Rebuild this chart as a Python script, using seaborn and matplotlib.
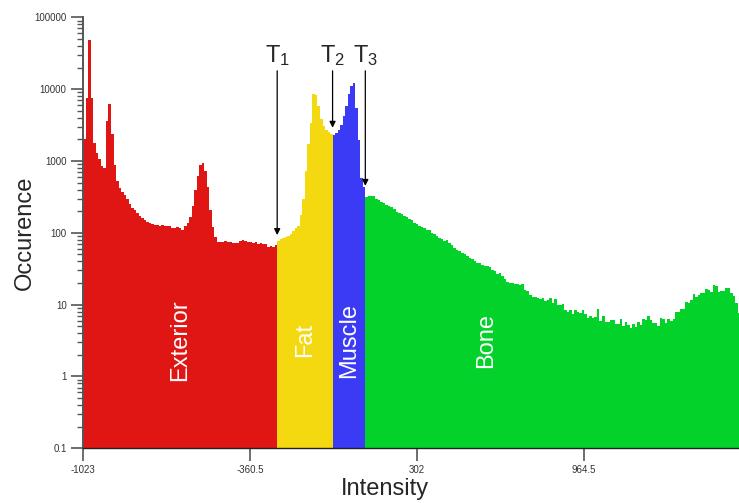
import numpy as np
import seaborn as sns
import matplotlib.pyplot as plt
from matplotlib.ticker import NullFormatter

# histogram counts per tissue class, 10 HU bins starting at -1023
exterior = [2000, 7600, 48000, 7600, 1800, 1300, 1050, 850, 800, 3600,
            6300, 2400, 870, 520, 420, 370, 335, 295, 250, 225,
            205, 190, 170, 162, 150, 142, 135, 132, 130, 128,
            125, 130, 126, 123, 123, 118, 117, 119, 117, 110,
            123, 138, 165, 236, 400, 610, 870, 950, 720, 436,
            210, 122, 88, 75, 74, 75, 77, 74, 74, 72,
            73, 72, 78, 79, 77, 74, 75, 72, 74, 70,
            72, 70, 70, 64, 65, 64, 68]
fat = [78, 82, 85, 88, 91, 97, 106, 115, 125, 175, 300,
       720, 1700, 3400, 8500, 8200, 5800, 3900, 3100, 2700, 2500, 2400]
muscle = [2300, 2450, 2700, 3200, 4200, 5800, 8500, 11000, 12300, 5500,
          1950, 580, 440]
bone = [312, 325, 325, 325, 300, 285, 268, 260, 245, 238,
        230, 213, 197, 187, 182, 170, 164, 158, 150, 138,
        132, 125, 122, 116, 110, 108, 101, 96, 90, 84,
        82, 76, 79, 72, 68, 61, 57, 55, 53, 51,
        47, 45, 43, 41, 38, 38, 36, 35, 34, 33,
        30, 29, 27, 27.5, 25, 23, 21, 20, 20, 19.5,
        19.5, 19, 19.5, 16, 15.5, 13.6, 12.6, 12.8, 12.5, 11.8,
        12.2, 11.3, 11.5, 12.2, 10.7, 12, 9.9, 9.9, 10.3, 8.5,
        8.0, 8.5, 7.4, 8.3, 7.8, 7.6, 8.5, 7.4, 6.6, 6.9,
        6.6, 6.7, 8.6, 6.0, 7.0, 5.8, 5.7, 6.2, 6.1, 5.3,
        5.3, 6.4, 5.0, 5.7, 5.2, 4.7, 5.4, 4.9, 5.7, 5.2,
        6.3, 6.1, 7.0, 6.1, 5.5, 5.5, 5.1, 6.6, 6.3, 5.6,
        6.3, 5.9, 6.4, 8.0, 8.0, 8.7, 8.7, 11, 10.5, 11.6,
        14, 12.6, 13.8, 14.4, 14.4, 16.4, 16, 15, 19, 18,
        15.2, 15.5, 15.6, 17.1, 17.1, 14.4, 13.2, 10.4, 7.6]

regions = ["Exterior", "Fat", "Muscle", "Bone"]
colors = ["#E01614", "#F4D810", "#3B3BF5", "#02D22A"]
xticks = [-1023, -360.5, 302, 964.5]
xtick_labels = ["-1023", "-360.5", "302", "964.5"]
yticks = [0.1, 1, 10, 100, 1000, 10000, 100000]
ytick_labels = ["0.1", "1", "10", "100", "1000", "10000", "100000"]
threshold_labels = [r"$\mathregular{T_1}$", r"$\mathregular{T_2}$", r"$\mathregular{T_3}$"]
arrow_tips = [93, 2900, 450]
bone_label_x = 578
start = -1023
width = 10

sns.set_style("ticks")
plt.rcParams["font.family"] = ["Liberation Sans", "DejaVu Sans"]

fig = plt.figure(figsize=(7.39, 5.03), dpi=100)
ax = fig.add_axes([0.1127, 0.1087, 0.8873, 0.8569])

offset = 0
bounds = []
for name, counts, col in zip(regions, [exterior, fat, muscle, bone], colors):
    n = len(counts)
    edges = start + width * (offset + np.arange(n + 1))
    centers = (edges[:-1] + edges[1:]) / 2
    sns.histplot(x=centers, weights=counts, bins=edges.tolist(), element="step",
                 fill=True, color=col, alpha=1, linewidth=0, ax=ax)
    bounds.append((edges[0], edges[-1]))
    offset += n

ax.set_yscale("log")
ax.set_ylim(0.1, 100000)
ax.set_xlim(-1023, 1581)

# region names
label_y = 3.2
for i, name in enumerate(regions):
    if name == "Bone":
        lx = bone_label_x
    else:
        lx = (bounds[i][0] + bounds[i][1]) / 2
    ax.text(lx, label_y, name, rotation=90, ha="center", va="center",
            color="white", fontsize=17)

# threshold arrows
for i in range(3):
    t = bounds[i][1]
    ax.annotate(threshold_labels[i], xy=(t, arrow_tips[i]), xytext=(t, 20000),
                ha="center", va="bottom", fontsize=17,
                arrowprops=dict(arrowstyle="-|>", color="black", lw=0.9,
                                shrinkA=0, shrinkB=0, mutation_scale=9))

ax.set_xticks(xticks)
ax.set_xticklabels(xtick_labels)
ax.set_yticks(yticks)
ax.set_yticklabels(ytick_labels)
ax.yaxis.set_minor_formatter(NullFormatter())
ax.tick_params(axis="both", which="major", length=9, width=1.2,
               color="#555555", labelsize=7, labelcolor="#333333", pad=3)
ax.tick_params(axis="y", which="minor", length=4.5, width=1.0, color="#555555")

sns.despine(ax=ax)
ax.spines["left"].set_color("#555555")
ax.spines["left"].set_linewidth(1.4)
ax.spines["bottom"].set_color("#222222")
ax.spines["bottom"].set_linewidth(1.0)

ax.set_xlabel("Intensity", fontsize=17)
ax.set_ylabel("Occurence", fontsize=17)
ax.xaxis.set_label_coords(0.46, -0.07)
ax.yaxis.set_label_coords(-0.072, 0.5)

fig.savefig("out.png", dpi=100)
